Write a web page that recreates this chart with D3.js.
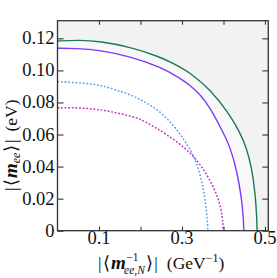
<!DOCTYPE html>
<html>
<head>
<meta charset="utf-8">
<script src="https://cdn.jsdelivr.net/npm/d3@7"></script>
<style>
  body { margin: 0; background: #fff; }
  svg { display: block; }
  svg text { font-family: 'Liberation Serif', 'Times New Roman', serif; }
</style>
</head>
<body>
<svg width="277" height="278"></svg>
<script>
var width = 277, height = 278;
var margin = {top: 20.7, right: 8.7, bottom: 47.3, left: 57.5};

// curves: [x (GeV^-1), y (eV)]
var outerSolid = [[0, 0.1183], [0.052, 0.119], [0.102, 0.1181], [0.175, 0.1147], [0.247, 0.1085], [0.295, 0.1023],
  [0.319, 0.0985], [0.367, 0.0885], [0.416, 0.0722], [0.44, 0.061], [0.455, 0.052], [0.468, 0.0395],
  [0.477, 0.022], [0.48, 0.009], [0.481, 0]];
var innerSolid = [[0, 0.1138], [0.045, 0.1138], [0.102, 0.1126], [0.175, 0.1087], [0.247, 0.1022], [0.295, 0.0953],
  [0.319, 0.0908], [0.343, 0.0852], [0.367, 0.0772], [0.3995, 0.0612], [0.416, 0.052], [0.432, 0.038],
  [0.444, 0.0195], [0.448, 0.008], [0.449, 0]];
var blueDotted = [[0, 0.093], [0.0687, 0.092], [0.102, 0.0908], [0.133, 0.0885], [0.175, 0.085], [0.21, 0.0805],
  [0.247, 0.0745], [0.279, 0.066], [0.303, 0.0575], [0.325, 0.0487], [0.341, 0.038], [0.351, 0.027],
  [0.357, 0.017], [0.361, 0.007], [0.3625, 0]];
var magentaDotted = [[0, 0.0767], [0.03, 0.0767], [0.0766, 0.0764], [0.125, 0.0747], [0.189, 0.0706], [0.2067, 0.0688],
  [0.263, 0.0603], [0.323, 0.0487], [0.3595, 0.0358], [0.3875, 0.0212], [0.398, 0.0087], [0.399, 0]];

var xTicks = [0.1, 0.2, 0.3, 0.4, 0.5];
var xTickLabels = [0.1, 0.3, 0.5];
var yTicks = [0, 0.02, 0.04, 0.06, 0.08, 0.10, 0.12];
var yTickLabels = ["0", "0.02", "0.04", "0.06", "0.08", "0.10", "0.12"];

var svg = d3.select('svg');
var w = width - margin.left - margin.right;
var h = height - margin.top - margin.bottom;

var x = d3.scaleLinear().domain([0, 0.508]).range([0, w]);
var y = d3.scaleLinear().domain([0, 0.131]).range([h, 0]);

var g = svg.append('g').attr('transform', 'translate(' + margin.left + ',' + margin.top + ')');

g.append('defs').append('clipPath').attr('id', 'clip')
  .append('rect').attr('width', w).attr('height', h);

var plot = g.append('g').attr('clip-path', 'url(#clip)');

plot.append('rect').attr('width', w).attr('height', h).attr('fill', '#f2f2f2');

// smooth the hand-read points a little
var line = d3.line()
  .x(function(d){ return x(d[0]) })
  .y(function(d){ return y(d[1]) })
  .curve(d3.curveBasis);

var fillPath = function(pts){
  return line(pts) + 'L' + x(0) + ',' + y(0) + 'Z';
};

plot.append('path').attr('d', fillPath(outerSolid)).attr('fill', '#f8f8f8');
plot.append('path').attr('d', fillPath(innerSolid)).attr('fill', '#ffffff');

plot.append('path').attr('d', line(outerSolid))
  .attr('fill', 'none').attr('stroke', '#1d7a4e').attr('stroke-width', 1.4);
plot.append('path').attr('d', line(innerSolid))
  .attr('fill', 'none').attr('stroke', '#7d3cf2').attr('stroke-width', 1.4);
plot.append('path').attr('d', line(blueDotted))
  .attr('fill', 'none').attr('stroke', '#5a9ef2').attr('stroke-width', 1.5)
  .attr('stroke-dasharray', '1.8,1.8');
plot.append('path').attr('d', line(magentaDotted))
  .attr('fill', 'none').attr('stroke', '#c42ec4').attr('stroke-width', 1.5)
  .attr('stroke-dasharray', '1.8,1.8');

// axes, ticks pointing inward on all four sides
var axisColor = '#333';
g.append('g').attr('transform', 'translate(0,' + h + ')')
  .call(d3.axisBottom(x).tickValues(xTicks).tickSizeInner(-4).tickSizeOuter(0).tickFormat(''));
g.append('g')
  .call(d3.axisTop(x).tickValues(xTicks).tickSizeInner(-4).tickSizeOuter(0).tickFormat(''));
g.append('g')
  .call(d3.axisLeft(y).tickValues(yTicks).tickSizeInner(-6).tickSizeOuter(0).tickFormat(''));
g.append('g').attr('transform', 'translate(' + w + ',0)')
  .call(d3.axisRight(y).tickValues(yTicks).tickSizeInner(-6).tickSizeOuter(0).tickFormat(''));
g.selectAll('.domain').remove();
g.selectAll('.tick line').attr('stroke', axisColor).attr('stroke-width', 1.1);

g.append('rect').attr('width', w).attr('height', h)
  .attr('fill', 'none').attr('stroke', axisColor).attr('stroke-width', 1.3);

// tick labels
g.selectAll('text.ylab').data(yTicks).enter().append('text')
  .attr('class', 'ylab')
  .attr('x', -3)
  .attr('y', function(d){ return y(d) + 6 })
  .attr('text-anchor', 'end')
  .attr('font-size', 18.5)
  .attr('fill', '#111')
  .text(function(d, i){ return yTickLabels[i] });

g.selectAll('text.xlab').data(xTickLabels).enter().append('text')
  .attr('class', 'xlab')
  .attr('x', function(d){ return x(d) })
  .attr('y', h + 13)
  .attr('text-anchor', 'middle')
  .attr('font-size', 18.5)
  .attr('fill', '#111')
  .text(function(d){ return d });

// x axis title
var xt = svg.append('text')
  .attr('x', 98).attr('y', 269)
  .attr('font-size', 17.5)
  .attr('fill', '#111');
xt.append('tspan').text('|');
xt.append('tspan').attr('dx', 1.5).text('⟨');
xt.append('tspan').attr('dx', 1).attr('font-style', 'italic').attr('font-weight', 'bold').attr('font-size', 19).text('m');
xt.append('tspan').attr('dx', 0.5).attr('dy', -8).attr('font-size', 11.5).text('−1');
xt.append('tspan').attr('dx', -14.5).attr('dy', 12.5).attr('font-size', 11.5).attr('font-style', 'italic').text('ee,N');
xt.append('tspan').attr('dx', 1).attr('dy', -4.5).text('⟩');
xt.append('tspan').attr('dx', 1.5).text('|');
xt.append('tspan').attr('dx', 9).text('(GeV');
xt.append('tspan').attr('dy', -7.5).attr('font-size', 12).text('−1');
xt.append('tspan').attr('dy', 7.5).text(')');

// y axis title
var yt = svg.append('text')
  .attr('transform', 'translate(16.5,191) rotate(-90)')
  .attr('font-size', 17.5)
  .attr('fill', '#111');
yt.append('tspan').text('|');
yt.append('tspan').attr('dx', 1.5).text('⟨');
yt.append('tspan').attr('dx', 1).attr('font-style', 'italic').attr('font-weight', 'bold').attr('font-size', 19).text('m');
yt.append('tspan').attr('dy', 3.5).attr('font-size', 12).attr('font-style', 'italic').text('ee');
yt.append('tspan').attr('dx', 1).attr('dy', -3.5).text('⟩');
yt.append('tspan').attr('dx', 1.5).text('|');
yt.append('tspan').attr('dx', 8).text('(eV)');
</script>
</body>
</html>
